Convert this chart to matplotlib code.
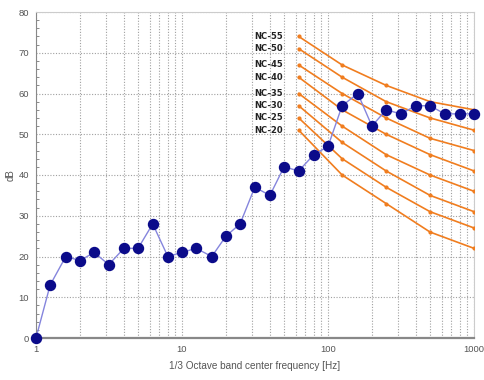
import matplotlib
matplotlib.use("Agg")
import matplotlib.pyplot as plt
from matplotlib.ticker import FixedLocator, NullFormatter, MultipleLocator

plt.rcParams["font.family"] = ["Liberation Sans", "DejaVu Sans"]

# 1/3 octave band centre frequencies and measured level
freqs = [1, 1.25, 1.6, 2, 2.5, 3.15, 4, 5, 6.3, 8, 10, 12.5, 16, 20, 25, 31.5,
         40, 50, 63, 80, 100, 125, 160, 200, 250, 315, 400, 500, 630, 800, 1000]
levels = [0, 13, 20, 19, 21, 18, 22, 22, 28, 20, 21, 22, 20, 25, 28, 37,
          35, 42, 41, 45, 47, 57, 60, 52, 56, 55, 57, 57, 55, 55, 55]

# NC curves at octave bands
nc_freqs = [63, 125, 250, 500, 1000]
nc_names = ["NC-55", "NC-50", "NC-45", "NC-40", "NC-35", "NC-30", "NC-25", "NC-20"]
nc_levels = [
    [74, 67, 62, 58, 56],
    [71, 64, 58, 54, 51],
    [67, 60, 54, 49, 46],
    [64, 56, 50, 45, 41],
    [60, 52, 45, 40, 36],
    [57, 48, 41, 35, 31],
    [54, 44, 37, 31, 27],
    [51, 40, 33, 26, 22],
]

x_ticks = [1, 10, 100, 1000]
x_ticklabels = ["1", "10", "100", "1000"]
y_ticks = [0, 10, 20, 30, 40, 50, 60, 70, 80]

fig = plt.figure(figsize=(4.85, 3.8), dpi=100)
ax = fig.add_axes([36 / 485, 42 / 380, 438 / 485, 326 / 380])

ax.set_xscale("log")
ax.set_xlim(1, 1000)
ax.set_ylim(0, 80)

orange = "#f07d1f"
for name, vals in zip(nc_names, nc_levels):
    ax.plot(nc_freqs, vals, color=orange, lw=1.2, marker="o", ms=2.0,
            mec=orange, mfc=orange, zorder=3)
    ax.text(49, vals[0], name, ha="right", va="center", fontsize=6,
            fontweight="bold", color="#222222", zorder=4,
            family=["DejaVu Sans"])

ax.plot(freqs, levels, color="#8585dd", lw=1.0, zorder=4,
        marker="o", ms=7.2, mfc="#0b0b8a", mec="#0b0b8a", clip_on=False)

# Grid and ticks
ax.xaxis.set_major_locator(FixedLocator(x_ticks))
ax.set_xticklabels(x_ticklabels)
ax.xaxis.set_minor_formatter(NullFormatter())
ax.set_yticks(y_ticks)
ax.yaxis.set_minor_locator(MultipleLocator(2))
ax.grid(True, which="major", axis="y", ls=(0, (1, 1.5)), color="#a0a0a0", lw=0.8)
ax.grid(True, which="both", axis="x", ls=(0, (1, 1.5)), color="#a0a0a0", lw=0.8)

ax.tick_params(axis="both", which="major", labelsize=6.8, labelcolor="#555555",
               length=0, pad=5)
ax.tick_params(axis="y", which="minor", length=2, direction="in", color="#777777")
ax.tick_params(axis="x", which="minor", length=0)

for side in ["top", "right"]:
    ax.spines[side].set_color("#cccccc")
    ax.spines[side].set_linewidth(0.8)
ax.spines["left"].set_color("#888888")
ax.spines["left"].set_linewidth(0.8)
ax.spines["bottom"].set_color("#888888")
ax.spines["bottom"].set_linewidth(1.6)

ax.set_ylabel("dB", fontsize=7, color="#555555", labelpad=2)
ax.set_xlabel("1/3 Octave band center frequency [Hz]", fontsize=7.2,
              color="#555555", labelpad=5)

fig.savefig("out.png", dpi=100)
